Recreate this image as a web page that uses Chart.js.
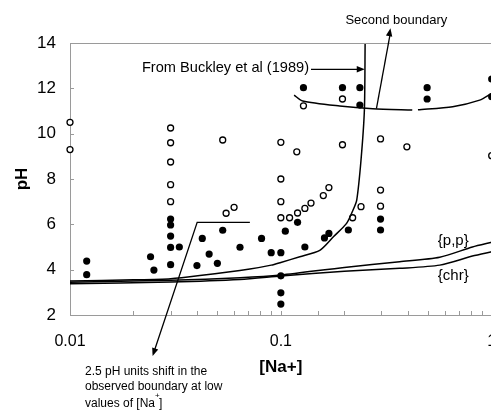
<!DOCTYPE html>
<html>
<head>
<meta charset="utf-8">
<script src="https://cdn.jsdelivr.net/npm/chart.js@4"></script>
<style>
  html, body { margin: 0; padding: 0; background: #fff; overflow: hidden; }
</style>
</head>
<body>
<canvas id="phChart" width="497" height="413"></canvas>
<script>
// Open circles: [Na+] and pH
var openNa = [0.01, 0.01, 0.03, 0.03, 0.03, 0.03, 0.03, 0.053, 0.055, 0.06,
    0.1, 0.1, 0.1, 0.1, 0.11, 0.119, 0.12, 0.13, 0.139, 0.159, 0.169,
    0.128, 0.196, 0.196, 0.219, 0.24, 0.297, 0.297, 0.297, 0.396, 1.0];
var openPH = [10.5, 9.3, 10.25, 9.6, 8.75, 7.75, 7.0, 9.72, 6.49, 6.75,
    9.62, 8.0, 7.0, 6.29, 6.29, 9.2, 6.5, 6.7, 6.94, 7.27, 7.62,
    11.23, 11.53, 9.51, 6.29, 6.78, 9.77, 7.51, 6.8, 9.42, 9.03];

// Filled circles
var filledNa = [0.012, 0.012, 0.0241, 0.025, 0.03, 0.03, 0.03, 0.03, 0.03, 0.033,
    0.04, 0.0424, 0.0457, 0.05, 0.053, 0.064, 0.081, 0.09, 0.1, 0.1, 0.1, 0.1,
    0.105, 0.12, 0.13, 0.161, 0.169, 0.209, 0.297, 0.297,
    0.128, 0.196, 0.237, 0.237, 0.494, 0.494, 1.0, 1.0];
var filledPH = [4.38, 3.78, 4.57, 3.98, 6.23, 5.97, 5.48, 4.98, 4.22, 5.0,
    4.18, 5.38, 4.69, 4.28, 5.74, 4.99, 5.38, 4.75, 4.75, 3.73, 2.98, 2.48,
    5.7, 6.09, 5.0, 5.4, 5.6, 5.75, 6.23, 5.75,
    12.03, 12.03, 12.03, 11.26, 12.03, 11.53, 12.41, 11.63];

// Boundary from Buckley et al (1989)
var buckleyNa = [0.01, 0.02, 0.03, 0.0413, 0.0713, 0.09, 0.1, 0.123, 0.153, 0.178, 0.205, 0.22, 0.229, 0.24, 0.249, 0.251];
var buckleyPH = [3.5, 3.55, 3.6, 3.74, 4.03, 4.2, 4.32, 4.57, 4.85, 5.46, 6.04, 6.63, 7.07, 8.84, 11.04, 14];

// Second boundary (arc around pH 11)
var secondNa = [0.1156, 0.127, 0.19, 0.273, 0.42, 0.43, 0.447, 0.653, 0.877, 1.0];
var secondPH = [11.7, 11.44, 11.22, 11.1, 11.04, null, 11.05, 11.19, 11.48, 11.78];

// {p,p} and {chr} curves
var ppNa = [0.01, 0.03, 0.064, 0.1, 0.2, 0.366, 0.567, 0.81, 1.0];
var ppPH = [3.45, 3.53, 3.64, 3.76, 4.1, 4.35, 4.55, 5.0, 5.21];
var chrNa = [0.01, 0.03, 0.064, 0.1, 0.2, 0.366, 0.567, 0.81, 1.0];
var chrPH = [3.38, 3.46, 3.57, 3.72, 3.93, 4.06, 4.2, 4.6, 4.79];

var xLabels = [0.01, 0.1, 1];
var yTicks = [2, 4, 6, 8, 10, 12, 14];

function pairs(xs, ys) {
    return xs.map(function (x, i) { return { x: x, y: ys[i] }; });
}

var FONT = '"Liberation Sans", Arial, sans-serif';

function arrowHead(ctx, x1, y1, x2, y2) {
    var a = Math.atan2(y2 - y1, x2 - x1);
    var len = 8, w = 3.2;
    ctx.beginPath();
    ctx.moveTo(x2, y2);
    ctx.lineTo(x2 - len * Math.cos(a) + w * Math.sin(a), y2 - len * Math.sin(a) - w * Math.cos(a));
    ctx.lineTo(x2 - len * Math.cos(a) - w * Math.sin(a), y2 - len * Math.sin(a) + w * Math.cos(a));
    ctx.closePath();
    ctx.fill();
}

// draws inward ticks, top frame line and the annotations
var annotations = {
    id: 'annotations',
    afterDraw: function (chart) {
        var ctx = chart.ctx;
        var xs = chart.scales.x, ys = chart.scales.y;
        var area = chart.chartArea;
        var X = function (v) { return xs.getPixelForValue(v); };
        var Y = function (v) { return ys.getPixelForValue(v); };
        ctx.save();

        // frame top + inward ticks
        ctx.strokeStyle = '#9a9a9a';
        ctx.lineWidth = 1;
        ctx.beginPath();
        ctx.moveTo(area.left, area.top + 0.5);
        ctx.lineTo(area.right, area.top + 0.5);
        xs.ticks.forEach(function (t) {
            var px = Math.round(X(t.value)) + 0.5;
            ctx.moveTo(px, area.bottom);
            ctx.lineTo(px, area.bottom - 4);
        });
        ys.ticks.forEach(function (t) {
            var py = Math.round(Y(t.value)) + 0.5;
            ctx.moveTo(area.left, py);
            ctx.lineTo(area.left + 4, py);
        });
        ctx.stroke();

        ctx.strokeStyle = '#000';
        ctx.fillStyle = '#000';
        ctx.lineWidth = 1.3;

        // From Buckley et al (1989) arrow
        var bx1 = X(0.139), bx2 = X(0.25), by = Y(12.84);
        ctx.beginPath();
        ctx.moveTo(bx1, by);
        ctx.lineTo(bx2 - 4, by);
        ctx.stroke();
        arrowHead(ctx, bx1, by, bx2, by);
        ctx.font = '14.6px ' + FONT;
        ctx.textAlign = 'right';
        ctx.textBaseline = 'middle';
        ctx.fillText('From Buckley et al (1989)', bx1 - 2, by - 1);

        // Second boundary arrow
        var sx1 = X(0.284), sy1 = Y(11.1), sx2 = X(0.331), sy2 = Y(14.65);
        ctx.beginPath();
        ctx.moveTo(sx1, sy1);
        ctx.lineTo(sx2, sy2 + 4);
        ctx.stroke();
        arrowHead(ctx, sx1, sy1, sx2, sy2);
        ctx.font = '13px ' + FONT;
        ctx.textAlign = 'center';
        ctx.fillText('Second boundary', X(0.353), Y(14.98));

        // 2.5 pH units shift pointer
        var p1x = X(0.0713), p1y = Y(6.09), p2x = X(0.0401), p3x = X(0.02466), p3y = Y(0.19);
        ctx.beginPath();
        ctx.moveTo(p1x, p1y);
        ctx.lineTo(p2x, p1y);
        ctx.lineTo(p3x + 1.3, p3y - 4);
        ctx.stroke();
        arrowHead(ctx, p2x, p1y, p3x, p3y);

        ctx.font = '12px ' + FONT;
        ctx.textAlign = 'left';
        var tx = X(0.01178);
        ctx.fillText('2.5 pH units shift in the', tx, Y(-0.51));
        ctx.fillText('observed boundary at low', tx, Y(-1.18));
        var l3 = 'values of [Na';
        ctx.fillText(l3, tx, Y(-1.93));
        var w3 = ctx.measureText(l3).width;
        ctx.font = '8px ' + FONT;
        ctx.fillText('+', tx + w3, Y(-1.93) - 8);
        ctx.font = '12px ' + FONT;
        ctx.fillText(']', tx + w3 + 4, Y(-1.93));

        // curve labels
        ctx.font = '15px ' + FONT;
        ctx.fillText('{p,p}', X(0.555), Y(5.28));
        ctx.fillText('{chr}', X(0.555), Y(3.72));

        ctx.restore();
    }
};

var lineStyle = {
    type: 'scatter',
    showLine: true,
    borderColor: '#000',
    borderWidth: 1.5,
    pointRadius: 0,
    tension: 0.25,
    spanGaps: false
};

var ctx = document.getElementById('phChart').getContext('2d');
var phChart = new Chart(ctx, {
    type: 'scatter',
    data: {
        datasets: [
            Object.assign({ label: 'Buckley', data: pairs(buckleyNa, buckleyPH) }, lineStyle),
            Object.assign({ label: 'Second boundary', data: pairs(secondNa, secondPH) }, lineStyle),
            Object.assign({ label: '{p,p}', data: pairs(ppNa, ppPH) }, lineStyle),
            Object.assign({ label: '{chr}', data: pairs(chrNa, chrPH) }, lineStyle),
            {
                label: 'Open',
                data: pairs(openNa, openPH),
                pointRadius: 3,
                pointBorderWidth: 1.3,
                borderColor: '#000',
                backgroundColor: '#fff',
                clip: false
            },
            {
                label: 'Filled',
                data: pairs(filledNa, filledPH),
                pointRadius: 3.6,
                pointBorderWidth: 0,
                borderColor: '#000',
                backgroundColor: '#000',
                clip: false
            }
        ]
    },
    options: {
        responsive: false,
        animation: false,
        layout: {
            padding: { top: 43, left: 0, right: 0, bottom: 35 }
        },
        plugins: {
            legend: { display: false },
            tooltip: { enabled: false }
        },
        scales: {
            x: {
                type: 'logarithmic',
                min: 0.01,
                max: 1,
                border: { color: '#9a9a9a', width: 1 },
                grid: { display: false, drawTicks: false },
                ticks: {
                    color: '#000',
                    font: { family: FONT, size: 16 },
                    padding: 17,
                    maxRotation: 0,
                    autoSkip: false,
                    callback: function (value) {
                        return xLabels.indexOf(Number(value)) >= 0 ? String(value) : '';
                    }
                },
                title: {
                    display: true,
                    text: '[Na+]',
                    color: '#000',
                    font: { family: FONT, size: 17, weight: 'bold' },
                    padding: 0
                },
                afterFit: function (scale) {
                    scale.height = 63;
                    scale.paddingLeft = 0;
                    scale.paddingRight = 0;
                }
            },
            y: {
                min: 2,
                max: 14,
                border: { color: '#9a9a9a', width: 1 },
                grid: { display: false, drawTicks: false },
                afterBuildTicks: function (scale) {
                    scale.ticks = yTicks.map(function (v) { return { value: v }; });
                },
                ticks: {
                    color: '#000',
                    font: { family: FONT, size: 17 },
                    padding: 14
                },
                title: {
                    display: true,
                    text: 'pH',
                    color: '#000',
                    font: { family: FONT, size: 17, weight: 'bold' },
                    padding: { top: 12, bottom: 0 }
                },
                afterFit: function (scale) {
                    scale.width = 70;
                    scale.paddingTop = 0;
                    scale.paddingBottom = 0;
                }
            }
        }
    },
    plugins: [annotations]
});
</script>
</body>
</html>
